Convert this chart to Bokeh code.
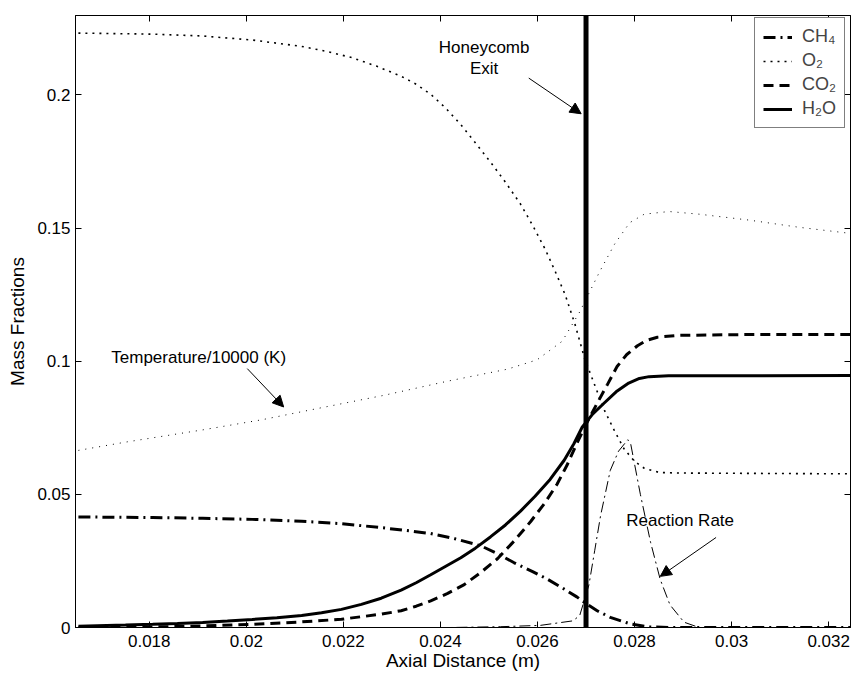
from bokeh.plotting import figure
from bokeh.models import (Range1d, FixedTicker, LinearAxis, Label, Arrow, NormalHead,
                          Span, Legend, LegendItem)
from bokeh.embed import file_html
from bokeh.resources import INLINE

FONT = "Liberation Sans"

# ---------------- data ----------------
ch4_x = [0.01654, 0.01807, 0.01910, 0.02012, 0.02114, 0.02196, 0.02278, 0.02330, 0.02380,
         0.02430, 0.02483, 0.02520, 0.02552, 0.02590, 0.02620, 0.02650, 0.02681, 0.02700,
         0.02723, 0.02750, 0.02792, 0.02830, 0.02880, 0.03244]
ch4_y = [0.0415, 0.0413, 0.0410, 0.0406, 0.0399, 0.0390, 0.0375, 0.0364, 0.0353,
         0.0333, 0.0307, 0.0275, 0.0243, 0.0210, 0.0182, 0.0150, 0.0115, 0.0090,
         0.0063, 0.0038, 0.0013, 0.0002, 0.0, 0.0]

o2_x = [0.01654, 0.01807, 0.01910, 0.02012, 0.02114, 0.02166, 0.02217, 0.02268, 0.02319,
        0.02350, 0.02380, 0.02411, 0.02442, 0.02472, 0.02503, 0.02534, 0.02565, 0.02590,
        0.02616, 0.02637, 0.02657, 0.02677, 0.02698, 0.02718, 0.02738, 0.02759, 0.02779,
        0.02800, 0.02820, 0.02851, 0.02892, 0.03244]
o2_y = [0.2232, 0.2228, 0.2221, 0.2206, 0.2182, 0.2163, 0.2140, 0.2108, 0.2070,
        0.2040, 0.2002, 0.1950, 0.1888, 0.1820, 0.1748, 0.1672, 0.1590, 0.1510,
        0.1420, 0.1335, 0.1250, 0.1140, 0.1005, 0.0910, 0.0815, 0.0737, 0.0669,
        0.0624, 0.0598, 0.0582, 0.0580, 0.0577]

co2_x = [0.01654, 0.01807, 0.01910, 0.02012, 0.02114, 0.02196, 0.02278, 0.02319, 0.02350,
         0.02380, 0.02415, 0.02449, 0.02482, 0.02518, 0.02552, 0.02586, 0.02614, 0.02640,
         0.02661, 0.02681, 0.02702, 0.02723, 0.02744, 0.02764, 0.02784, 0.02806, 0.02825,
         0.02847, 0.02892, 0.03035, 0.03244]
co2_y = [0.0, 0.0002, 0.0006, 0.0012, 0.0021, 0.0031, 0.0050, 0.0063, 0.0080,
         0.0100, 0.0128, 0.0161, 0.0205, 0.0259, 0.0325, 0.0398, 0.0465, 0.0537,
         0.0610, 0.0691, 0.0770, 0.0842, 0.0912, 0.0980, 0.1025, 0.1058, 0.1078,
         0.1090, 0.1097, 0.1100, 0.1100]

h2o_x = [0.01654, 0.01751, 0.01807, 0.01858, 0.01910, 0.01961, 0.02012, 0.02063, 0.02114,
         0.02155, 0.02196, 0.02237, 0.02278, 0.02319, 0.02350, 0.02380, 0.02411, 0.02442,
         0.02472, 0.02503, 0.02534, 0.02565, 0.02595, 0.02626, 0.02655, 0.02675, 0.02692,
         0.02714, 0.02737, 0.02762, 0.02788, 0.02810, 0.02830, 0.02870, 0.03244]
h2o_y = [0.0005, 0.0009, 0.0012, 0.0015, 0.0019, 0.0024, 0.0030, 0.0037, 0.0045,
         0.0055, 0.0068, 0.0087, 0.0110, 0.0140, 0.0168, 0.0198, 0.0230, 0.0262,
         0.0298, 0.0340, 0.0385, 0.0437, 0.0493, 0.0556, 0.0628, 0.0690, 0.0752,
         0.0802, 0.0842, 0.0885, 0.0918, 0.0935, 0.0942, 0.0945, 0.0946]

temp_x = [0.01654, 0.01751, 0.01910, 0.02032, 0.02146, 0.02284, 0.02415, 0.02538, 0.02599,
          0.02651, 0.02687, 0.02728, 0.02759, 0.02790, 0.02820, 0.02871, 0.02933, 0.03035,
          0.03138, 0.03244]
temp_y = [0.0665, 0.0696, 0.0742, 0.0780, 0.0822, 0.0872, 0.0925, 0.0970, 0.1005,
          0.1075, 0.1185, 0.1336, 0.1440, 0.1520, 0.1552, 0.1562, 0.1552, 0.1530,
          0.1503, 0.1480]

rate_x = [0.01654, 0.02421, 0.02524, 0.02606, 0.02673, 0.02687, 0.02706, 0.02718, 0.02730,
          0.02750, 0.02767, 0.02786, 0.02792, 0.02812, 0.02833, 0.02853, 0.02873, 0.02902,
          0.02933, 0.03244]
rate_y = [0.0, 0.0, 0.0003, 0.0008, 0.0025, 0.0045, 0.0160, 0.0290, 0.0420,
          0.0590, 0.0662, 0.0705, 0.0690, 0.0500, 0.0320, 0.0180, 0.0085, 0.0020,
          0.0, 0.0]

exit_x = 0.027

x_ticks = [0.018, 0.020, 0.022, 0.024, 0.026, 0.028, 0.030, 0.032]
x_tick_labels = ["0.018", "0.02", "0.022", "0.024", "0.026", "0.028", "0.03", "0.032"]
y_ticks = [0.0, 0.05, 0.10, 0.15, 0.20]
y_tick_labels = ["0", "0.05", "0.1", "0.15", "0.2"]

legend_labels = ["CH\u2084", "O\u2082", "CO\u2082", "H\u2082O"]

# ---------------- figure ----------------
p = figure(width=854, height=677, output_backend="svg", toolbar_location=None,
           x_range=Range1d(0.01648, 0.03245), y_range=Range1d(0, 0.2298),
           min_border_left=75, min_border_right=4, min_border_top=15, min_border_bottom=50)
p.background_fill_color = "white"
p.border_fill_color = "white"
p.outline_line_color = "black"
p.outline_line_width = 1
p.xgrid.visible = False
p.ygrid.visible = False

bottom_ax = p.below[0]
left_ax = p.left[0]

xt = FixedTicker(ticks=x_ticks)
yt = FixedTicker(ticks=y_ticks)

top_ax = LinearAxis(ticker=xt)
right_ax = LinearAxis(ticker=yt)
p.add_layout(top_ax, "above")
p.add_layout(right_ax, "right")

for ax in [bottom_ax, left_ax, top_ax, right_ax]:
    ax.major_tick_in = 6
    ax.major_tick_out = 0
    ax.minor_tick_line_color = None
    ax.axis_line_color = "black"
    ax.major_tick_line_color = "black"
    ax.major_label_text_font = FONT
    ax.major_label_text_font_size = "17px"
    ax.major_label_text_color = "black"
    ax.axis_label_text_font = FONT
    ax.axis_label_text_font_style = "normal"
    ax.axis_label_text_font_size = "19px"
    ax.axis_label_text_color = "black"

bottom_ax.ticker = xt
left_ax.ticker = yt
bottom_ax.major_label_overrides = {t: s for t, s in zip(x_ticks, x_tick_labels)}
left_ax.major_label_overrides = {t: s for t, s in zip(y_ticks, y_tick_labels)}
bottom_ax.major_label_standoff = 7
left_ax.major_label_standoff = 5
bottom_ax.axis_label = "Axial Distance (m)"
left_ax.axis_label = "Mass Fractions"
bottom_ax.axis_label_standoff = 0
left_ax.axis_label_standoff = 6

for ax, ticks in [(top_ax, x_ticks), (right_ax, y_ticks)]:
    ax.major_label_overrides = {t: "" for t in ticks}
    ax.major_label_text_font_size = "0px"
    ax.major_label_standoff = 0

# ---------------- curves ----------------
r_rate = p.line(rate_x, rate_y, line_color="black", line_width=1, line_dash="11 4 2 4")
r_temp = p.line(temp_x, temp_y, line_color="black", line_width=1, line_dash="1 6")
r_ch4 = p.line(ch4_x, ch4_y, line_color="black", line_width=3, line_dash="12 5 2 5")
r_o2 = p.line(o2_x, o2_y, line_color="black", line_width=1.6, line_dash="2 5")
r_co2 = p.line(co2_x, co2_y, line_color="black", line_width=3, line_dash="10 6")
r_h2o = p.line(h2o_x, h2o_y, line_color="black", line_width=3)

p.add_layout(Span(location=exit_x, dimension="height", line_color="black", line_width=5))

# ---------------- annotations ----------------
def lab(x, y, text, align="center"):
    p.add_layout(Label(x=x, y=y, text=text, text_align=align, text_baseline="middle",
                       text_font=FONT, text_font_size="17px", text_color="black"))

def arrow(x0, y0, x1, y1):
    p.add_layout(Arrow(end=NormalHead(size=11, fill_color="black", line_color="black"),
                       x_start=x0, y_start=y0, x_end=x1, y_end=y1,
                       line_color="black", line_width=1))

lab(0.02490, 0.2177, "Honeycomb")
lab(0.02490, 0.2100, "Exit")
arrow(0.02582, 0.2063, 0.02690, 0.1929)

lab(0.02082, 0.1012, "Temperature/10000 (K)", align="right")
arrow(0.02002, 0.0972, 0.02077, 0.0828)

lab(0.02783, 0.0400, "Reaction Rate", align="left")
arrow(0.02968, 0.0338, 0.02853, 0.0192)

# ---------------- legend ----------------
legend = Legend(items=[LegendItem(label=l, renderers=[r]) for l, r in
                       zip(legend_labels, [r_ch4, r_o2, r_co2, r_h2o])],
                location=(679, 499))
legend.border_line_color = "black"
legend.border_line_width = 1
legend.background_fill_color = "white"
legend.background_fill_alpha = 1
legend.label_text_font = FONT
legend.label_text_font_size = "18px"
legend.glyph_width = 29
legend.glyph_height = 20
legend.label_height = 20
legend.label_standoff = 10
legend.spacing = 3
legend.padding = 8
legend.margin = 0
p.add_layout(legend)

open("out.html", "w").write(file_html(p, INLINE))
